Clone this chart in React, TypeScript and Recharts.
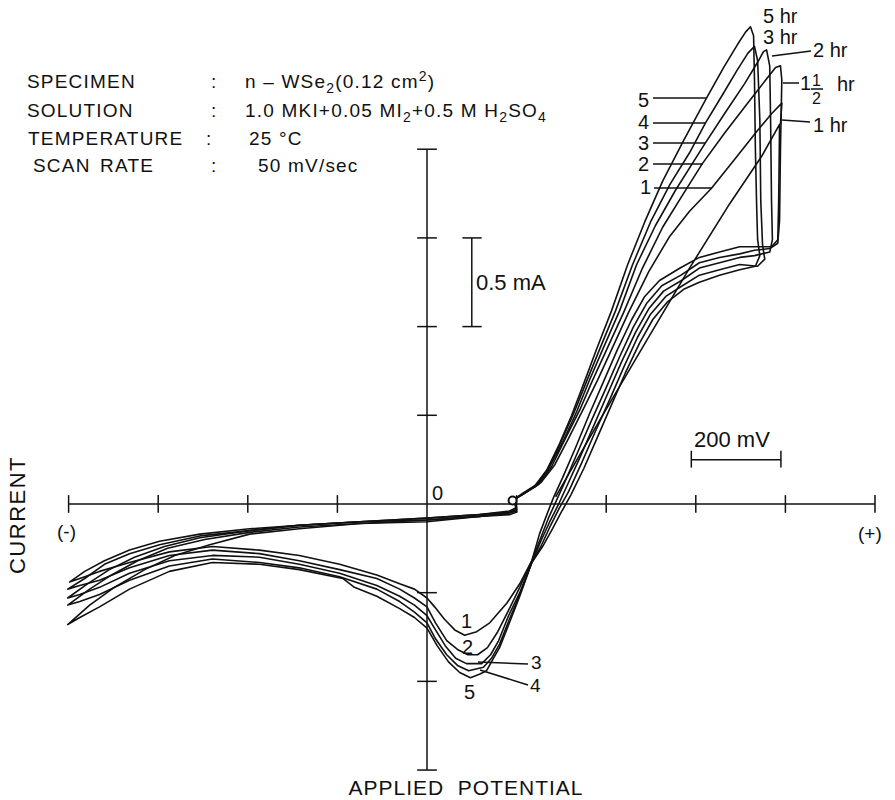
import { LineChart, Line, XAxis, YAxis, ReferenceLine, ReferenceDot } from "recharts";

type Pt = [number, number];

// potential in mV (origin = rest), current in mA
const cycle1: Pt[] = [
  [287, 0.04], [385, 0.47], [497, 0.95], [586, 1.33], [675, 1.69], [747, 1.96], [787, 2.14],
  [785, 1.71], [783, 1.49], [769, 1.45], [731, 1.45], [698, 1.45], [653, 1.42], [608, 1.39], [565, 1.33],
  [519, 1.26], [486, 1.17], [457, 1.04], [425, 0.87], [394, 0.69], [363, 0.51], [332, 0.32], [303, 0.15],
  [283, 0.04], [269, -0.05], [251, -0.17], [234, -0.32],
  [207, -0.45], [178, -0.56], [140, -0.67], [111, -0.72], [84, -0.74],
  [62, -0.71], [39, -0.65], [17, -0.58], [0, -0.53], [-28, -0.48], [-61, -0.45], [-112, -0.4], [-195, -0.34],
  [-285, -0.29], [-374, -0.26], [-479, -0.24], [-575, -0.27], [-664, -0.33], [-731, -0.38], [-775, -0.42], [-798, -0.44],
  [-764, -0.38], [-720, -0.32], [-664, -0.26], [-597, -0.21], [-507, -0.17], [-396, -0.14], [-285, -0.12],
  [-150, -0.1], [0, -0.08], [117, -0.06], [184, -0.04], [200, -0.02], [196, 0.01], [191, 0.02],
  [218, 0.06], [254, 0.12], [285, 0.22], [316, 0.37], [350, 0.54], [381, 0.7], [412, 0.87], [450, 1.08],
  [495, 1.31], [542, 1.51], [586, 1.65], [635, 1.78], [686, 1.94], [736, 2.1], [769, 2.2], [792, 2.26], [789, 2.14],
];

const cycle2: Pt[] = [
  [191, 0.02], [216, 0.06], [249, 0.11], [278, 0.21], [309, 0.37], [341, 0.53], [370, 0.7], [401, 0.87],
  [439, 1.08], [481, 1.33], [526, 1.56], [570, 1.74], [615, 1.92], [664, 2.09], [716, 2.26], [756, 2.39], [778, 2.46], [789, 2.47],
  [792, 2.39], [789, 2.0], [787, 1.6], [783, 1.47], [765, 1.44], [731, 1.43], [698, 1.41], [653, 1.39], [608, 1.36], [567, 1.29],
  [524, 1.23], [490, 1.13], [461, 1.0], [430, 0.83], [399, 0.65], [367, 0.47], [336, 0.29], [307, 0.12],
  [289, 0.02], [271, -0.08], [254, -0.19], [234, -0.32],
  [207, -0.47], [182, -0.6], [158, -0.72], [135, -0.81], [113, -0.85], [91, -0.85],
  [68, -0.82], [44, -0.77], [19, -0.67], [0, -0.58], [-28, -0.53], [-61, -0.48], [-112, -0.42], [-195, -0.37],
  [-285, -0.32], [-374, -0.28], [-479, -0.26], [-575, -0.29], [-664, -0.36], [-731, -0.43], [-775, -0.46], [-802, -0.48],
  [-764, -0.42], [-720, -0.34], [-664, -0.28], [-597, -0.23], [-507, -0.18], [-396, -0.15], [-285, -0.12],
  [-150, -0.1], [0, -0.08], [117, -0.06], [184, -0.045], [200, -0.03], [196, 0.01], [191, 0.02],
];

const cycle3: Pt[] = [
  [191, 0.02], [213, 0.06], [245, 0.11], [274, 0.21], [305, 0.36], [334, 0.52], [363, 0.7], [392, 0.87],
  [430, 1.09], [468, 1.35], [510, 1.57], [555, 1.77], [620, 2.03], [664, 2.2], [709, 2.37], [738, 2.49], [751, 2.55], [758, 2.56],
  [765, 2.47], [767, 2.16], [769, 1.71], [771, 1.49], [765, 1.42], [731, 1.4], [698, 1.39], [653, 1.36], [608, 1.33], [568, 1.26],
  [528, 1.2], [495, 1.1], [466, 0.97], [434, 0.8], [403, 0.62], [372, 0.44], [341, 0.26], [312, 0.1],
  [294, 0], [274, -0.1], [254, -0.21], [234, -0.33],
  [207, -0.5], [182, -0.63], [160, -0.77], [142, -0.85], [122, -0.9], [88, -0.9],
  [64, -0.87], [41, -0.8], [19, -0.71], [0, -0.63], [-28, -0.57], [-61, -0.52], [-112, -0.46], [-195, -0.39],
  [-285, -0.34], [-374, -0.3], [-479, -0.29], [-575, -0.32], [-664, -0.39], [-731, -0.47], [-775, -0.51], [-802, -0.53],
  [-758, -0.45], [-709, -0.37], [-653, -0.3], [-586, -0.24], [-507, -0.19], [-396, -0.15], [-285, -0.12],
  [-150, -0.1], [0, -0.09], [117, -0.07], [184, -0.05], [200, -0.03], [196, 0.01], [191, 0.02],
];

const cycle4: Pt[] = [
  [191, 0.02], [211, 0.05], [243, 0.1], [271, 0.2], [300, 0.355], [329, 0.52], [356, 0.69], [385, 0.87],
  [421, 1.09], [459, 1.35], [499, 1.59], [542, 1.8], [586, 1.98], [622, 2.15], [658, 2.3], [691, 2.44], [716, 2.54], [731, 2.58],
  [738, 2.5], [743, 2.16], [745, 1.71], [749, 1.46], [754, 1.38], [738, 1.34], [698, 1.35], [653, 1.32], [608, 1.29], [570, 1.23],
  [533, 1.17], [499, 1.07], [470, 0.94], [439, 0.77], [408, 0.59], [376, 0.41], [345, 0.23], [316, 0.07],
  [296, -0.02], [276, -0.12], [256, -0.23], [234, -0.33],
  [207, -0.51], [184, -0.65], [162, -0.79], [144, -0.87], [126, -0.92], [93, -0.94],
  [68, -0.91], [44, -0.85], [19, -0.76], [0, -0.67], [-28, -0.61], [-61, -0.55], [-112, -0.48], [-195, -0.41],
  [-285, -0.36], [-374, -0.33], [-479, -0.31], [-575, -0.35], [-664, -0.43], [-731, -0.51], [-775, -0.55], [-802, -0.57],
  [-753, -0.48], [-704, -0.4], [-646, -0.32], [-579, -0.25], [-496, -0.2], [-396, -0.16], [-285, -0.13],
  [-150, -0.11], [0, -0.09], [117, -0.07], [184, -0.05], [200, -0.04], [196, 0.01], [191, 0.02],
];

const cycle5: Pt[] = [
  [191, 0.02], [211, 0.05], [240, 0.1], [267, 0.19], [296, 0.34], [323, 0.5], [350, 0.68], [378, 0.87],
  [412, 1.09], [448, 1.35], [486, 1.59], [526, 1.82], [573, 2.05], [622, 2.28], [662, 2.46], [693, 2.59], [711, 2.66], [722, 2.69],
  [729, 2.64], [731, 2.39], [733, 2.0], [736, 1.66], [738, 1.49], [743, 1.4], [733, 1.34], [698, 1.32], [653, 1.29], [608, 1.25], [573, 1.21],
  [537, 1.14], [504, 1.04], [475, 0.91], [443, 0.74], [412, 0.56], [381, 0.38], [350, 0.2], [321, 0.05],
  [300, -0.045], [280, -0.14], [258, -0.24], [234, -0.33],
  [207, -0.52], [184, -0.67], [162, -0.81], [146, -0.88], [133, -0.94], [117, -0.96], [97, -0.98],
  [73, -0.95], [48, -0.89], [23, -0.8], [0, -0.7], [-28, -0.64], [-61, -0.59], [-112, -0.52], [-162, -0.47],
  [-188, -0.42], [-285, -0.37], [-374, -0.34], [-479, -0.33], [-575, -0.38], [-664, -0.48], [-731, -0.58], [-775, -0.64], [-802, -0.68],
  [-753, -0.57], [-698, -0.47], [-630, -0.37], [-563, -0.29], [-485, -0.23], [-396, -0.17], [-285, -0.14],
  [-150, -0.11], [0, -0.1], [117, -0.07], [184, -0.06], [200, -0.045], [196, 0.01], [191, 0.02],
];

const cycles = [cycle1, cycle2, cycle3, cycle4, cycle5];

const xTicks = [-800, -600, -400, -200, 200, 400, 600, 800, 1000];
const yTicks = [-1.5, -1, -0.5, 0.5, 1, 1.5, 2];
const startPoint: Pt = [191, 0.02];

const FONT = "'Liberation Sans', Arial, sans-serif";
const INK = "#111";

function Overlay() {
  const t = { fontFamily: FONT, fill: INK };
  const sub = (s: string) => (
    <tspan dy={5} fontSize={14}>{s}</tspan>
  );
  return (
    <svg width={895} height={800} style={{ position: "absolute", left: 0, top: 0, pointerEvents: "none" }}>
      <g {...t} fontSize={19} letterSpacing={1.2}>
        <text x={27} y={88}>SPECIMEN</text>
        <text x={27} y={117}>SOLUTION</text>
        <text x={28} y={145}>TEMPERATURE</text>
        <text x={33} y={172}>SCAN</text>
        <text x={100} y={172}>RATE</text>
        <text x={211} y={88}>:</text>
        <text x={211} y={117}>:</text>
        <text x={206} y={145}>:</text>
        <text x={211} y={172}>:</text>
        <text x={245} y={88}>
          n – WSe{sub("2")}
          <tspan dy={-5}>(0.12 cm</tspan>
          <tspan dy={-7} fontSize={14}>2</tspan>
          <tspan dy={7}>)</tspan>
        </text>
        <text x={245} y={117}>
          1.0 MKI+0.05 MI{sub("2")}
          <tspan dy={-5}>+0.5 M H</tspan>
          {sub("2")}
          <tspan dy={-5}>SO</tspan>
          {sub("4")}
        </text>
        <text x={249} y={145}>25 °C</text>
        <text x={258} y={172}>50 mV/sec</text>
      </g>

      <g {...t} fontSize={20}>
        <text x={763} y={23}>5 hr</text>
        <text x={763} y={44}>3 hr</text>
        <text x={813} y={57}>2 hr</text>
        <text x={800} y={90}>1</text>
        <text x={812} y={86} fontSize={16}>1</text>
        <text x={812} y={104} fontSize={16}>2</text>
        <text x={837} y={91}>hr</text>
        <text x={813} y={132}>1 hr</text>
        <text x={638} y={107}>5</text>
        <text x={638} y={129}>4</text>
        <text x={638} y={150}>3</text>
        <text x={638} y={171}>2</text>
        <text x={640} y={194}>1</text>
      </g>
      <g {...t} fontSize={20}>
        <text x={461} y={628}>1</text>
        <text x={462} y={654}>2</text>
        <text x={464} y={699}>5</text>
        <text x={432} y={500}>0</text>
      </g>
      <g {...t} fontSize={19}>
        <text x={531} y={669}>3</text>
        <text x={530} y={692}>4</text>
        <text x={57} y={538}>(-)</text>
        <text x={858} y={540}>(+)</text>
      </g>
      <g {...t} fontSize={22}>
        <text x={476} y={290}>0.5 mA</text>
        <text x={694} y={447}>200 mV</text>
      </g>
      <g stroke={INK} strokeWidth={1.5}>
        <line x1={772} y1={56} x2={811} y2={51} />
        <line x1={783} y1={83} x2={799} y2={83} />
        <line x1={811} y1={89} x2={823} y2={89} />
        <line x1={782} y1={120} x2={810} y2={122} />
        <line x1={653} y1={98} x2={706} y2={98} />
        <line x1={653} y1={123} x2={706} y2={123} />
        <line x1={653} y1={143} x2={705} y2={143} />
        <line x1={653} y1={164} x2={703} y2={164} />
        <line x1={654} y1={188} x2={712} y2={188} />
        <line x1={478} y1={662} x2={528} y2={664} />
        <line x1={480} y1={670} x2={528} y2={685} />
      </g>
      <text {...t} fontSize={22} letterSpacing={1.5} transform="translate(25,515) rotate(-90)" textAnchor="middle">
        CURRENT
      </text>
      <text {...t} fontSize={21} letterSpacing={1} x={466} y={795} textAnchor="middle" xmlSpace="preserve">
        APPLIED  POTENTIAL
      </text>
    </svg>
  );
}

export default function App() {
  const axis = { stroke: INK, strokeWidth: 1.5, ifOverflow: "visible" as const };
  return (
    <div style={{ position: "absolute", left: 0, top: 0, width: 895, height: 800, background: "#fff" }}>
      <LineChart width={895} height={800} margin={{ top: 7.3, right: 20, bottom: 12.2, left: 23.8 }}>
        <XAxis type="number" dataKey="x" domain={[-900, 1000]} allowDataOverflow hide />
        <YAxis type="number" dataKey="y" domain={[-1.6, 2.8]} allowDataOverflow hide />

        <ReferenceLine {...axis} segment={[{ x: -800, y: 0 }, { x: 1000, y: 0 }]} />
        {xTicks.map((v) => (
          <ReferenceLine key={"xt" + v} {...axis} segment={[{ x: v, y: -0.05 }, { x: v, y: 0.05 }]} />
        ))}
        <ReferenceLine {...axis} segment={[{ x: 0, y: -1.5 }, { x: 0, y: 2 }]} />
        {yTicks.map((v) => (
          <ReferenceLine key={"yt" + v} {...axis} segment={[{ x: -22, y: v }, { x: 22, y: v }]} />
        ))}

        {/* scale bars: 0.5 mA and 200 mV */}
        <ReferenceLine {...axis} segment={[{ x: 100, y: 1 }, { x: 100, y: 1.5 }]} />
        <ReferenceLine {...axis} segment={[{ x: 79, y: 1 }, { x: 122, y: 1 }]} />
        <ReferenceLine {...axis} segment={[{ x: 79, y: 1.5 }, { x: 122, y: 1.5 }]} />
        <ReferenceLine {...axis} segment={[{ x: 590, y: 0.25 }, { x: 790, y: 0.25 }]} />
        <ReferenceLine {...axis} segment={[{ x: 590, y: 0.205 }, { x: 590, y: 0.3 }]} />
        <ReferenceLine {...axis} segment={[{ x: 790, y: 0.205 }, { x: 790, y: 0.3 }]} />

        {cycles.map((c, i) => (
          <Line
            key={i}
            data={c.map(([x, y]) => ({ x, y }))}
            dataKey="y"
            type="linear"
            stroke={INK}
            strokeWidth={1.6}
            strokeLinejoin="round"
            dot={false}
            isAnimationActive={false}
          />
        ))}
        <ReferenceDot x={startPoint[0]} y={startPoint[1]} r={4} fill="#fff" stroke={INK} strokeWidth={2} ifOverflow="visible" />
      </LineChart>
      <Overlay />
    </div>
  );
}
